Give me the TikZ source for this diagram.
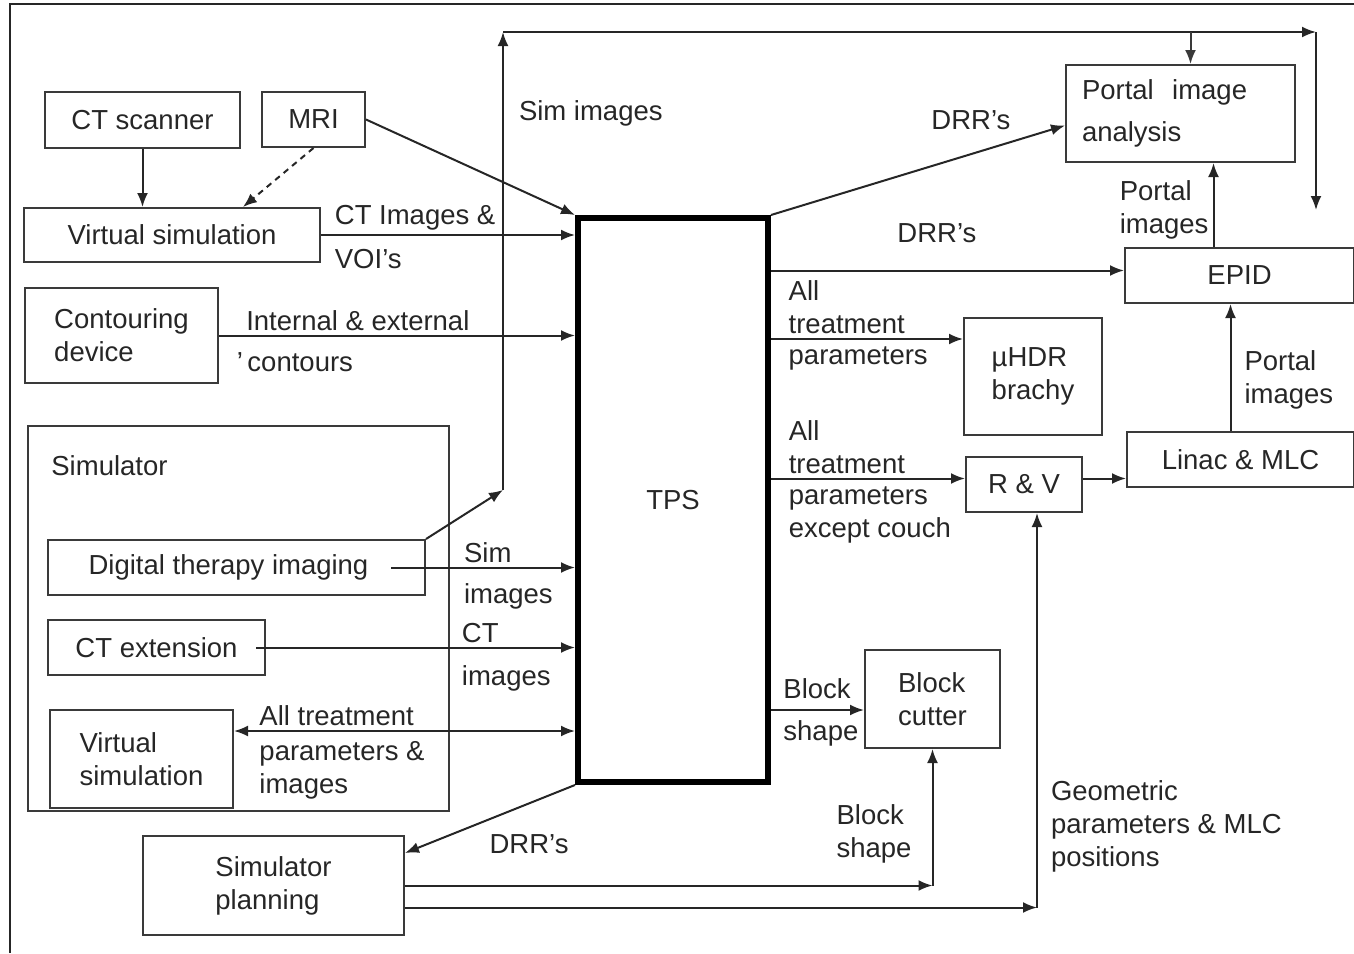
\documentclass[tikz,border=0pt]{standalone}
\usepackage{fontspec}
\setmainfont{Liberation Sans}
\usetikzlibrary{positioning,arrows,arrows.meta,calc}
\definecolor{ink}{HTML}{262626}
\definecolor{edge}{HTML}{3A3A3A}
\tikzset{unit/.style={draw=edge, line width=1pt, text=ink, inner sep=2pt, align=left},
    lab/.style={text=ink, inner sep=2pt, align=left},
    link/.style={->, line width=1pt, draw=ink}
}

\begin{document}
\begin{tikzpicture}[>={Latex[length=7pt,width=5.5pt]}, x=0.5pt, y=-0.5pt, font=\fontsize{13.75}{16.5}\selectfont]
	\useasboundingbox (0,0) rectangle (1354,953);
	\draw[line width=1pt, ink] (10,953) -- (10,4) -- (1354,4);
	% left hand side
	\node[unit, minimum width=97.5pt, minimum height=28pt] (ctscan) at (142.5,120) {CT scanner};
	\node[unit, minimum width=51.5pt, minimum height=27.5pt] (mri) at (313.5,119.5) {MRI};
	\node[unit, minimum width=148pt, minimum height=27pt] (virtsim) at (172,235) {Virtual simulation};
	\node[unit, minimum width=96.5pt, minimum height=47.5pt] (contour) at (121.5,335.5) {Contouring\\device};
	\node[unit, minimum width=210.5pt, minimum height=192.5pt] (simbox) at (238.5,618.5) {};
	\node[lab, anchor=west] (simname) at (47,466) {Simulator};
	\node[unit, minimum width=188.5pt, minimum height=27.5pt] (dti) at (236.5,567.5) {Digital therapy imaging\hspace{8pt}};
	\node[unit, minimum width=108.5pt, minimum height=27.5pt] (ctext) at (156.5,647.5) {CT extension};
	\node[unit, minimum width=91.5pt, minimum height=49pt] (virtsim2) at (141.5,759) {Virtual\\simulation\hspace{3pt}};
	\node[unit, minimum width=130.5pt, minimum height=49.5pt] (simplan) at (273.5,885.5) {Simulator\\planning\hspace{8pt}};
	% planning system
	\node[unit, line width=3pt, draw=black, minimum width=95pt, minimum height=282pt] (tps) at (673,500) {TPS};
	% right hand side
	\node[unit, text width=98.5pt, inner xsep=8pt, minimum height=48.5pt] (pia) at (1180.5,113.5) {Portal\ \ image\\[4.5pt]analysis};
	\node[unit, minimum width=114.5pt, minimum height=27.5pt] (epid) at (1239.5,275.5) {EPID};
	\node[unit, minimum width=69pt, minimum height=58.5pt] (hdr) at (1033,376.5) {µHDR\\brachy};
	\node[unit, minimum width=113.5pt, minimum height=27.5pt] (linac) at (1240.5,459.5) {Linac \& MLC};
	\node[unit, minimum width=58pt, minimum height=27.5pt] (rv) at (1024,484.5) {R \& V};
	\node[unit, minimum width=67.5pt, minimum height=49pt] (cutter) at (932.5,699) {Block\\cutter};

	\draw[link] (ctscan.south) -- (ctscan.south |- virtsim.north);
	\draw[link, dash pattern=on 3pt off 2.5pt] (mri.south) -- ($(virtsim.north)+(71,0)$);
	\draw[link] (mri.east) -- (tps.north west);
	\draw[link] (virtsim.east) -- (virtsim.east -| tps.west)
		node[lab, above right, pos=.035] {CT Images \&}
		node[lab, below right, pos=.035, yshift=-4.5pt] {VOI’s};
	\draw[link] (contour.east) -- (contour.east -| tps.west)
		node[lab, above, pos=.39] {Internal \& external}
		node[lab, below right, pos=.036, yshift=-6pt] {’\,contours};

	% simulator images
	\coordinate (simbend) at (503,490);
	\coordinate (simtop) at (503,32);
	\coordinate (simend) at (1316,210);
	\coordinate (piain) at ($(pia.north)+(10,0)$);
	\draw[link] (dti.north east) -- (simbend);
	\draw[link] (simbend) -- (simtop) node[lab, right, pos=.823, xshift=5.5pt] {Sim images};
	\draw[link] (simtop) -- (simtop -| simend);
	\draw[link] (simtop -| simend) -- (simend);
	\draw[link, edge] (piain |- simtop) -- (piain);

	\coordinate (dtiout) at ($(dti.east)+(-35,0)$);
	\draw[link] (dtiout) -- (dtiout -| tps.west)
		node[lab, above right, pos=.37] {Sim}
		node[lab, below right, pos=.37, yshift=-5.5pt] {images};
	\coordinate (ctout) at ($(ctext.east)+(-10,0)$);
	\draw[link] (ctout) -- (ctout -| tps.west)
		node[lab, above right, pos=.63] {CT}
		node[lab, below right, pos=.63, yshift=-6.5pt] {images};
	\coordinate (vsout) at ($(virtsim2.north east)+(0,22)$);
	\draw[link, <->] (vsout) -- (vsout -| tps.west)
		node[lab, above right, pos=.06] {All treatment}
		node[lab, below right, pos=.06, yshift=-2.5pt] {parameters \&\\images};

	% simulator planning
	\coordinate (spin) at ($(simplan.north east)+(0,18)$);
	\draw[link] (tps.south west) -- (spin) node[lab, below, pos=.27, yshift=-13pt] {DRR’s};
	\coordinate (bsbend) at (cutter.south |- simplan.east);
	\draw[link] (simplan.east) -- (bsbend);
	\draw[link] (bsbend) -- (cutter.south) node[lab, left, pos=.38, xshift=-8pt] {Block\\shape};
	\coordinate (gpout) at ($(simplan.east)+(0,22)$);
	\coordinate (gpin) at ($(rv.south)+(13,0)$);
	\draw[link] (gpout) -- (gpout -| gpin);
	\draw[link] (gpout -| gpin) -- (gpin)
		node[lab, right, pos=.206, xshift=4.5pt] {Geometric\\parameters \& MLC\\positions};

	% outputs of the TPS
	\coordinate (bcin) at ($(cutter.west)+(0,11)$);
	\draw[link] (bcin -| tps.east) -- (bcin)
		node[lab, above right, pos=.08, yshift=3pt] {Block}
		node[lab, below right, pos=.08, yshift=-3pt] {shape};
	\coordinate (rvin) at ($(rv.west)+(0,-6)$);
	\draw[link] (rvin -| tps.east) -- (rvin)
		node[lab, above right, pos=.066] {All\\treatment}
		node[lab, below right, pos=.066, yshift=-1.5pt] {parameters\\except couch};
	\coordinate (hdrin) at ($(hdr.north west)+(0,22)$);
	\draw[link] (hdrin -| tps.east) -- (hdrin)
		node[lab, above right, pos=.066] {All\\treatment}
		node[lab, below right, pos=.066, yshift=-1.5pt] {parameters};
	\coordinate (epin) at ($(epid.west)+(0,-5)$);
	\draw[link] (epin -| tps.east) -- (epin) node[lab, above, pos=.47, yshift=11.5pt] {DRR’s};
	\coordinate (piaw) at ($(pia.west)+(0,12)$);
	\draw[link] (tps.north east) -- (piaw) node[lab, above, pos=.68, yshift=9.5pt] {DRR’s};

	% treatment unit
	\coordinate (epout) at ($(epid.north)+(-26,0)$);
	\draw[link] (epout) -- (epout |- pia.south) node[lab, left, pos=.44] {Portal\\images};
	\coordinate (lnout) at ($(linac.north)+(-10,0)$);
	\draw[link] (lnout) -- (lnout |- epid.south) node[lab, right, pos=.4, xshift=4.5pt] {Portal\\images};
	\coordinate (rvout) at ($(rv.east)+(0,-6)$);
	\draw[link] (rvout) -- (rvout -| linac.west);
\end{tikzpicture}
\end{document}
